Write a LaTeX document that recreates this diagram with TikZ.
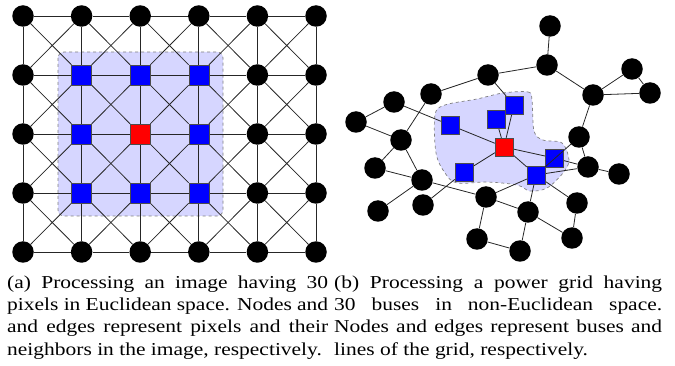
\documentclass[tikz,border=0pt]{standalone}
\usepackage{fontspec}
\setmainfont{Liberation Serif}
\newfontfamily\captfont[FakeStretch=1.18]{Liberation Serif}
\usetikzlibrary{positioning, backgrounds}
\pgfdeclarelayer{shade}
\pgfdeclarelayer{edges}
\pgfsetlayers{shade,edges,main}
\tikzset{
  pixel/.style={circle, fill=black, minimum size=21.5pt, inner sep=0pt},
  nbr/.style={rectangle, draw=black!70, fill=blue, minimum size=20pt, inner sep=0pt},
  focus/.style={rectangle, draw=black!70, fill=red, minimum size=20pt, inner sep=0pt},
  link/.style={draw=black!85, line width=0.8pt},
  region/.style={draw=black!50, dashed, fill=blue!16, line width=0.7pt},
  capt/.style={anchor=north west, inner sep=0pt, align=justify,
    font=\captfont\fontsize{18.2}{22.3}\selectfont}
}

\begin{document}
\begin{tikzpicture}[x=1pt, y=-1pt]
\useasboundingbox (0,0) rectangle (675,366);

% (a) pixels of the image
\foreach \i in {0,...,5}
  \foreach \j in {0,...,4}{
    \def\kind{pixel}
    \ifnum\i>0 \ifnum\i<4 \ifnum\j>0 \ifnum\j<4 \def\kind{nbr}\fi\fi\fi\fi
    \ifnum\i=2 \ifnum\j=2 \def\kind{focus}\fi\fi
    \node[\kind] (g-\i-\j) at ({23+58.6*\i},{16+59*\j}) {};
  }

\begin{pgfonlayer}{shade}
  \draw[region, rounded corners=6pt] (58,52) rectangle (223,216);
\end{pgfonlayer}

\begin{pgfonlayer}{edges}
  \foreach \i [count=\k] in {0,...,4}
    \foreach \j in {0,...,4}
      \draw[link] (g-\i-\j) -- (g-\k-\j);
  \foreach \i in {0,...,5}
    \foreach \j [count=\l] in {0,...,3}
      \draw[link] (g-\i-\j) -- (g-\i-\l);
  \foreach \i [count=\k] in {0,...,4}
    \foreach \j [count=\l] in {0,...,3}{
      \draw[link] (g-\i-\j) -- (g-\k-\l);
      \draw[link] (g-\k-\j) -- (g-\i-\l);
    }
\end{pgfonlayer}

% (b) buses of the power grid
\foreach \n/\x/\y in {1/550/26, 2/547/65, 3/488/75, 4/632/69, 5/650/93,
    6/593/95, 7/431/94, 8/394/102, 9/356/122, 10/401/140, 11/579/137,
    12/375/168, 13/422/180, 14/588/167, 15/619/174, 16/378/211,
    17/423/205, 18/486/197, 19/577/203, 20/528/212, 21/477/239,
    22/572/238, 23/520/251}
  \node[pixel] (b\n) at (\x,\y) {};
\foreach \n/\x/\y in {1/450/125, 2/514/105, 3/496/119, 4/464/172,
    5/536/175, 6/554/158}
  \node[nbr, minimum size=18pt] (n\n) at (\x,\y) {};
\node[focus, minimum size=18pt] (c) at (504,147) {};

\begin{pgfonlayer}{shade}
  \draw[region] plot[smooth cycle, tension=0.55] coordinates {
    (503,93) (528,92) (532,100) (534,131) (543,140) (562,143)
    (569,160) (563,173) (547,188) (530,191) (517,185) (487,182)
    (457,183) (445,173) (436,153) (435,115) (445,105) (477,99)};
\end{pgfonlayer}

\begin{pgfonlayer}{edges}
  \foreach \a/\b in {b1/b2, b2/b3, b2/b6, b6/b4, b4/b5, b6/b5, b6/b11,
      b3/b7, b3/n2, b7/b10, b8/b9, b8/n1, b9/b10, b10/b12, b10/b13,
      b12/b13, b13/b16, b13/b18, b17/n4, b18/b20, b18/b21, b20/b22,
      b20/b23, b21/b23, b19/b22, b11/b14, b14/b15, n1/c, n2/c, n3/c,
      n4/c, c/n6, c/n5, n5/b18, n5/b20, n5/b19, n5/b14, n6/b14}
    \draw[link] (\a) -- (\b);
\end{pgfonlayer}
\draw[link] (n5) -- (b11);

% captions
\node[capt, text width=321pt] (capa) at (7,275.5)
  {(a) Processing an image having 30\linebreak pixels in Euclidean space. Nodes and\linebreak and edges represent pixels and their\linebreak neighbors in the image, respectively.};
\node[capt, text width=328pt] (capb) at (334,275.5)
  {(b) Processing a power grid having\linebreak 30 buses in non-Euclidean space.\linebreak Nodes and edges represent buses and\linebreak lines of the grid, respectively.};
\end{tikzpicture}
\end{document}
